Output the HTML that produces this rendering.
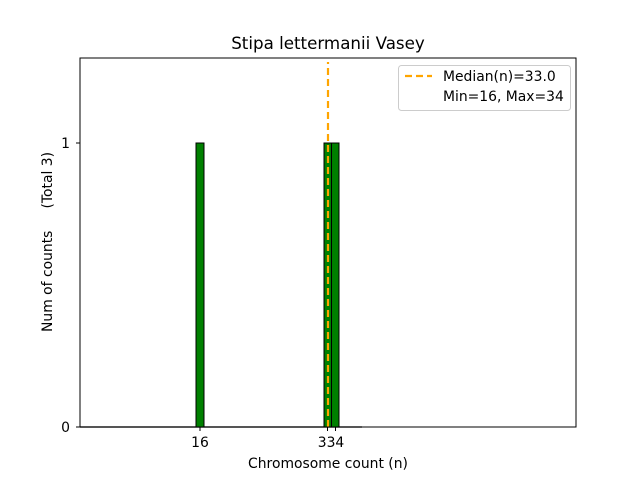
<!DOCTYPE html>
<html><head><meta charset="utf-8"><style>body{margin:0;background:#fff}</style></head><body>
<svg width="640" height="480" xmlns="http://www.w3.org/2000/svg" font-family="DejaVu Sans, Liberation Sans, sans-serif">
<rect width="640" height="480" fill="#fff"/>
<text x="328" y="49" font-size="16.7" text-anchor="middle">Stipa lettermanii Vasey</text>
<line x1="80" y1="427" x2="362" y2="427" stroke="#aaa" stroke-width="2"/>
<rect x="196" y="143" width="8" height="284" fill="#008000" stroke="#000" stroke-width="1"/>
<rect x="324" y="143" width="7.5" height="284" fill="#008000" stroke="#000" stroke-width="1"/>
<rect x="331.5" y="143" width="7.5" height="284" fill="#008000" stroke="#000" stroke-width="1"/>
<line x1="328" y1="427" x2="328" y2="62" stroke="#ffa500" stroke-width="2.2" stroke-dasharray="7,4"/>
<rect x="80" y="58" width="496" height="369" fill="none" stroke="#000" stroke-width="1"/>
<g stroke="#000"><line x1="80" y1="427" x2="76" y2="427"/><line x1="80" y1="143" x2="76" y2="143"/>
<line x1="200" y1="427" x2="200" y2="431"/><line x1="327.5" y1="427" x2="327.5" y2="431"/><line x1="335.5" y1="427" x2="335.5" y2="431"/></g>
<g font-size="13.9"><text x="70" y="432" text-anchor="end">0</text><text x="70" y="148" text-anchor="end">1</text>
<text x="200" y="447" text-anchor="middle">16</text><text x="331" y="447" text-anchor="middle">334</text>
<text x="328" y="468" text-anchor="middle">Chromosome count (n)</text>
<text transform="translate(52,242) rotate(-90)" text-anchor="middle" style="white-space:pre">Num of counts     (Total 3)</text></g>
<rect x="398.5" y="65.5" width="172" height="45" rx="3" fill="#fff" stroke="#ccc"/>
<line x1="405" y1="76" x2="432" y2="76" stroke="#ffa500" stroke-width="2.2" stroke-dasharray="7,4"/>
<text x="443" y="81" font-size="13.9">Median(n)=33.0</text>
<text x="443" y="101" font-size="13.9">Min=16, Max=34</text>
</svg>
</body></html>
